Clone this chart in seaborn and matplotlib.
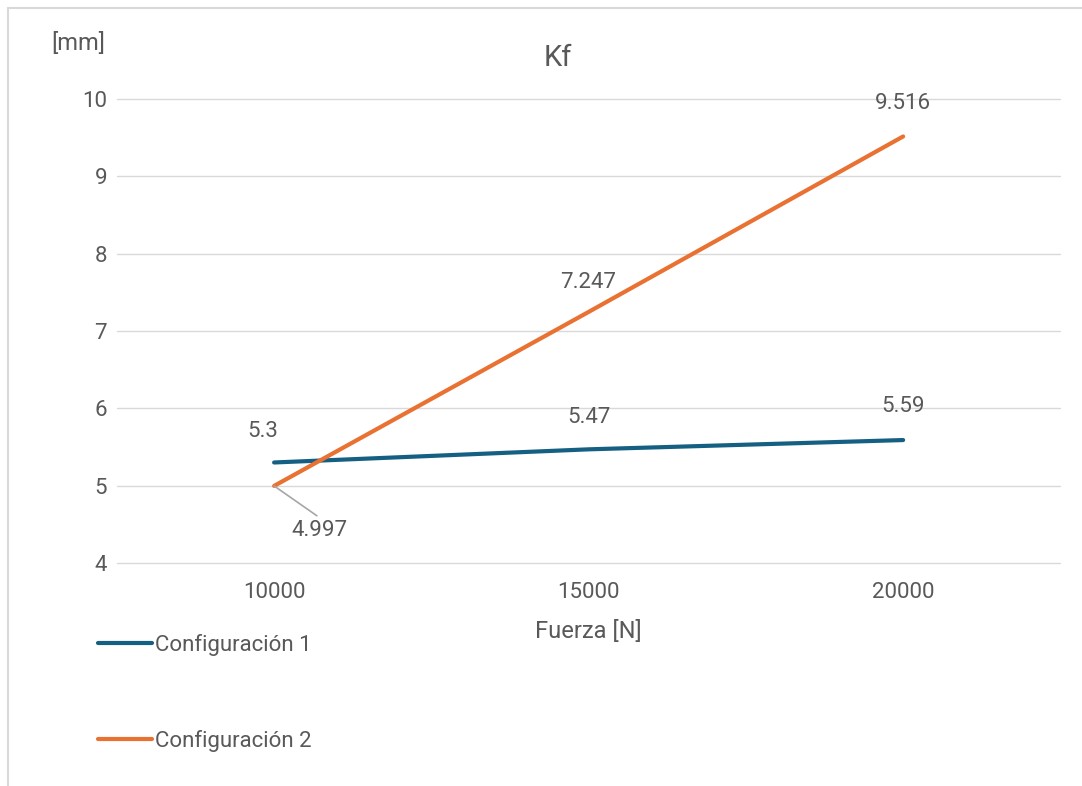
import pandas as pd
import matplotlib.pyplot as plt
import seaborn as sns
from matplotlib.patches import Rectangle

fuerza = ["10000", "15000", "20000"]
config1 = [5.3, 5.47, 5.59]
config2 = [4.997, 7.247, 9.516]
series_names = ["Configuración 1", "Configuración 2"]
colors = ["#156082", "#E97132"]
y_ticks = [4, 5, 6, 7, 8, 9, 10]

df = pd.DataFrame({
    "Fuerza": fuerza * 2,
    "Valor": config1 + config2,
    "Serie": [series_names[0]] * 3 + [series_names[1]] * 3,
})

sns.set_style("white")
plt.rcParams["font.family"] = ["Roboto", "DejaVu Sans"]
text_color = "#595959"
fs = 16

fig = plt.figure(figsize=(10.82, 7.86), dpi=100)
ax = fig.add_axes([0.108, 0.2837, 0.872, 0.5903])

sns.lineplot(data=df, x="Fuerza", y="Valor", hue="Serie",
             palette=colors, linewidth=3, ax=ax, legend=True,
             solid_capstyle="round")

ax.set_xlim(-0.5, 2.5)
ax.set_ylim(4, 10)
ax.set_yticks(y_ticks)
ax.yaxis.grid(True, color="#d9d9d9", linewidth=1)
ax.xaxis.grid(False)
ax.set_axisbelow(True)
for g in ax.get_ygridlines():
    g.set_clip_on(False)
for s in ax.spines.values():
    s.set_visible(False)
ax.tick_params(axis="y", length=0, pad=7, labelsize=fs, labelcolor=text_color)
ax.tick_params(axis="x", length=0, pad=14, labelsize=fs, labelcolor=text_color)
ax.set_xlabel("Fuerza [N]", fontsize=17, color=text_color, labelpad=12)
ax.set_ylabel("")
fig.text(78 / 1082, 1 - 43 / 786, "[mm]", fontsize=17, color=text_color,
         ha="center", va="center")
fig.text(558 / 1082, 1 - 58 / 786, "Kf", fontsize=21, color=text_color,
         ha="center", va="center")

# data labels
lab_kw = dict(textcoords="offset points", fontsize=fs, color=text_color,
              ha="center", va="center")
offs1 = [(-8, 22), (0, 23), (0, 24)]
for i, v in enumerate(config1):
    ax.annotate(f"{v:g}", (i, v), xytext=offs1[i], **lab_kw)
offs2 = [(0, 0), (0, 21), (0, 24)]
for i, v in enumerate(config2):
    if i == 0:
        ax.annotate(f"{v:g}", (i, v), xytext=(33, -32),
                    arrowprops=dict(arrowstyle="-", color="#a6a6a6", lw=1.2,
                                    shrinkA=1, shrinkB=0,
                                    relpos=(0.55, 1.0)),
                    **lab_kw)
    else:
        ax.annotate(f"{v:g}", (i, v), xytext=offs2[i], **lab_kw)

leg = ax.legend(loc="upper left", bbox_to_anchor=(78 / 1082, 1 - 614 / 786),
                bbox_transform=fig.transFigure, frameon=False, fontsize=fs,
                labelspacing=3.33, handlelength=2.45, handletextpad=0.1,
                labelcolor=text_color)
for h in leg.get_lines():
    h.set_linewidth(3)
    h.set_solid_capstyle("round")

fig.patches.append(Rectangle((8 / 1082, -0.05), 1.1, 1 - 8 / 786 + 0.05,
                             transform=fig.transFigure, fill=False,
                             edgecolor="#d9d9d9", linewidth=1.5))

fig.savefig("out.png", dpi=100)
